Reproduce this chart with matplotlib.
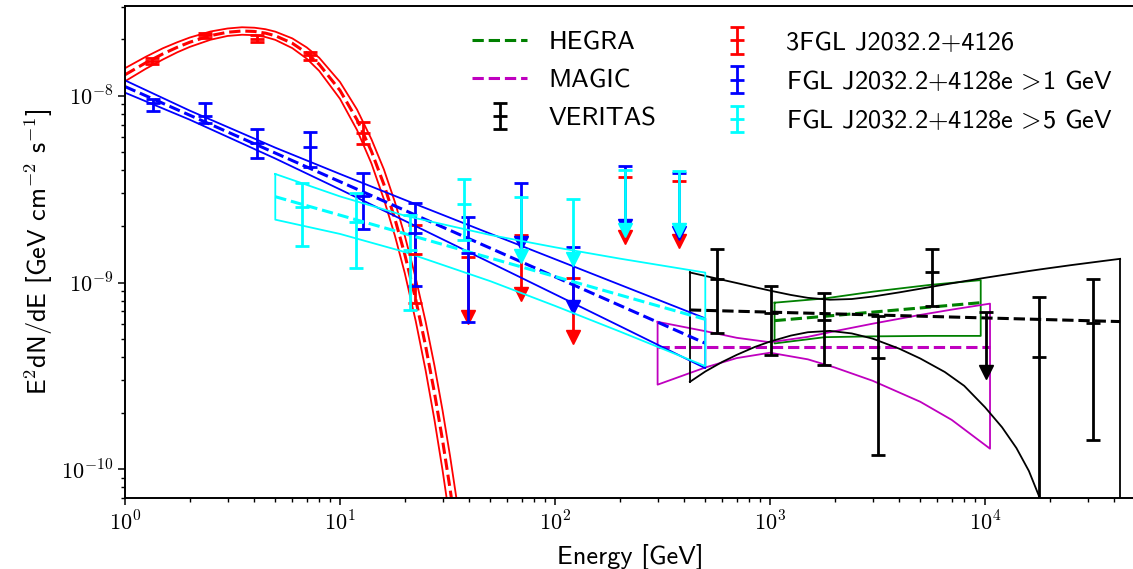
import numpy as np
import matplotlib
matplotlib.use('Agg')
import matplotlib.pyplot as plt
from matplotlib.ticker import FuncFormatter, NullFormatter

plt.rcParams['font.family'] = 'cmss10'
plt.rcParams['mathtext.fontset'] = 'cm'
plt.rcParams['axes.unicode_minus'] = False

## data points, energies in GeV, E^2 dN/dE in GeV cm-2 s-1
# 3FGL J2032.2+4126
E_3fgl = [1.33, 2.36, 4.10, 7.25, 12.8, 22.3]
F_3fgl = [1.54e-8, 2.10e-8, 2.00e-8, 1.65e-8, 6.34e-9, 1.42e-9]
hi_3fgl = [1.60e-8, 2.17e-8, 2.11e-8, 1.72e-8, 7.26e-9, 2.03e-9]
lo_3fgl = [1.47e-8, 2.03e-8, 1.93e-8, 1.55e-8, 5.51e-9, 7.8e-10]
E_3fgl_ul = [39.5, 69.3, 120.9, 211.6, 377.0]
F_3fgl_ul = [1.37e-9, 1.80e-9, 1.06e-9, 3.66e-9, 3.49e-9]

# FGL J2032.2+4128e >1 GeV
E_fgl1 = [1.35, 2.36, 4.10, 7.25, 12.8, 22.3, 39.5]
F_fgl1 = [9.1e-9, 7.8e-9, 5.6e-9, 5.29e-9, 2.9e-9, 1.85e-9, 1.43e-9]
hi_fgl1 = [9.57e-9, 9.1e-9, 6.61e-9, 6.37e-9, 3.84e-9, 2.67e-9, 2.25e-9]
lo_fgl1 = [8.31e-9, 7.1e-9, 4.62e-9, 4.17e-9, 1.93e-9, 9.6e-10, 6.17e-10]
E_fgl1_ul = [69.3, 120.9, 211.6, 377.0]
F_fgl1_ul = [3.40e-9, 1.54e-9, 4.2e-9, 3.84e-9]

# FGL J2032.2+4128e >5 GeV
E_fgl5 = [6.63, 11.9, 21.2, 37.7]
F_fgl5 = [2.53e-9, 2.11e-9, 1.50e-9, 2.63e-9]
hi_fgl5 = [3.42e-9, 3.0e-9, 2.30e-9, 3.57e-9]
lo_fgl5 = [1.56e-9, 1.19e-9, 7.1e-10, 1.69e-9]
E_fgl5_ul = [69.3, 120.9, 211.6, 377.0]
F_fgl5_ul = [2.88e-9, 2.80e-9, 3.99e-9, 3.97e-9]

# VERITAS
E_ver = [565, 1007, 1783, 3170, 5650, 17830, 31700]
F_ver = [1.04e-9, 6.89e-10, 6.29e-10, 3.96e-10, 1.14e-9, 4.01e-10, 6.09e-10]
hi_ver = [1.52e-9, 9.57e-10, 8.81e-10, 6.64e-10, 1.52e-9, 8.34e-10, 1.05e-9]
lo_ver = [5.35e-10, 4.09e-10, 3.61e-10, 1.19e-10, 7.48e-10, 1e-11, 1.44e-10]
E_ver_ul = [10070]
F_ver_ul = [6.92e-10]

## model curves and butterflies
# 3FGL curved spectrum
E_3fgl_mod = [1, 1.25, 1.5, 1.75, 2, 2.5, 3, 3.5, 4, 4.5, 5, 6, 7, 8, 10, 12, 14, 16, 18, 20,
              22.5, 25, 27.5, 30, 32.5, 35, 40]
F_3fgl_mod = [1.294e-8, 1.501e-8, 1.674e-8, 1.816e-8, 1.932e-8, 2.097e-8, 2.186e-8, 2.219e-8,
              2.207e-8, 2.162e-8, 2.093e-8, 1.908e-8, 1.692e-8, 1.472e-8, 1.067e-8, 7.43e-9,
              5.04e-9, 3.35e-9, 2.193e-9, 1.418e-9, 8.11e-10, 4.59e-10, 2.57e-10, 1.427e-10,
              7.87e-11, 4.32e-11, 1.28e-11]
up_3fgl_mod = [1.403e-8, 1.616e-8, 1.794e-8, 1.932e-8, 2.047e-8, 2.206e-8, 2.289e-8, 2.324e-8,
               2.311e-8, 2.269e-8, 2.202e-8, 2.026e-8, 1.813e-8, 1.596e-8, 1.184e-8, 8.43e-9,
               5.85e-9, 4.03e-9, 2.698e-9, 1.785e-9, 1.057e-9, 6.19e-10, 3.59e-10, 2.063e-10,
               1.178e-10, 6.69e-11, 2.12e-11]
lo_3fgl_mod = [1.194e-8, 1.394e-8, 1.562e-8, 1.707e-8, 1.824e-8, 1.993e-8, 2.088e-8, 2.119e-8,
               2.108e-8, 2.060e-8, 1.990e-8, 1.797e-8, 1.579e-8, 1.358e-8, 9.62e-9, 6.55e-9,
               4.34e-9, 2.79e-9, 1.782e-9, 1.126e-9, 6.22e-10, 3.40e-10, 1.84e-10, 9.87e-11,
               5.26e-11, 2.79e-11, 7.7e-12]

# FGL >1 GeV power law
E_fgl1_mod = [1, 2, 5, 10, 20, 50, 100, 200, 500]
F_fgl1_mod = [1.119e-8, 4.73e-10]   # at first / last energy
up_fgl1_mod = [1.208e-8, 8.32e-9, 5.27e-9, 3.81e-9, 2.77e-9, 1.826e-9, 1.334e-9, 9.74e-10, 6.43e-10]
lo_fgl1_mod = [1.038e-8, 7.44e-9, 4.61e-9, 3.15e-9, 2.14e-9, 1.278e-9, 8.65e-10, 5.85e-10, 3.48e-10]

# FGL >5 GeV power law
E_fgl5_mod = [5, 10, 20, 50, 100, 200, 500]
F_fgl5_mod = [2.88e-9, 6.35e-10]
up_fgl5_mod = [3.81e-9, 2.89e-9, 2.28e-9, 1.797e-9, 1.544e-9, 1.343e-9, 1.13e-9]
lo_fgl5_mod = [2.17e-9, 1.82e-9, 1.457e-9, 1.017e-9, 7.50e-10, 5.47e-10, 3.57e-10]

# HEGRA
E_hegra = [1050, 1800, 3000, 5500, 9550]
F_hegra = [6.25e-10, 7.8e-10]
up_hegra = [7.8e-10, 8.22e-10, 8.93e-10, 9.7e-10, 1.03e-9]
lo_hegra = [4.72e-10, 5.1e-10, 5.15e-10, 5.18e-10, 5.18e-10]

# MAGIC
E_magic = [300, 500, 700, 1000, 1500, 2000, 3000, 5000, 7000, 10550]
F_magic = [4.5e-10, 4.5e-10]
up_magic = [6.16e-10, 5.49e-10, 5.06e-10, 4.79e-10, 5.12e-10, 5.49e-10, 6.02e-10, 6.71e-10, 7.16e-10, 7.71e-10]
lo_magic = [2.84e-10, 3.51e-10, 3.94e-10, 4.21e-10, 3.88e-10, 3.51e-10, 2.98e-10, 2.30e-10, 1.84e-10, 1.29e-10]

# VERITAS
E_ver_mod = [424, 42500]
F_ver_mod = [7.13e-10, 6.18e-10]
E_ver_up = [424, 500, 600, 700, 850, 1000, 1250, 1500, 1900, 2400, 3000, 4000, 5000, 6500, 8000,
            10000, 12000, 14000, 16000, 18000, 20000, 22000, 25000, 30000, 36000, 42500]
up_ver = [1.132e-9, 1.084e-9, 1.034e-9, 9.94e-10, 9.44e-10, 9.05e-10, 8.58e-10, 8.28e-10, 8.09e-10,
          8.16e-10, 8.41e-10, 8.86e-10, 9.26e-10, 9.76e-10, 1.016e-9, 1.060e-9, 1.095e-9, 1.125e-9,
          1.152e-9, 1.175e-9, 1.195e-9, 1.213e-9, 1.238e-9, 1.272e-9, 1.307e-9, 1.339e-9]
E_ver_lo = [424, 500, 600, 700, 850, 1000, 1250, 1500, 1900, 2400, 3000, 4000, 5000, 6500, 8000,
            10000, 12000, 14000, 16000, 18000, 19000, 20000]
lo_ver_mod = [2.94e-10, 3.34e-10, 3.76e-10, 4.10e-10, 4.52e-10, 4.83e-10, 5.20e-10, 5.42e-10, 5.51e-10,
              5.34e-10, 5.01e-10, 4.42e-10, 3.92e-10, 3.32e-10, 2.80e-10, 2.15e-10, 1.68e-10,
              1.30e-10, 9.8e-11, 7.0e-11, 5.5e-11, 4.0e-11]

LW = 1.3
DLW = 2.2
UL_DROP = 0.48   # arrow length of the upper limits

fig = plt.figure(figsize=(11.33, 5.69), dpi=100)
ax = fig.add_axes([125/1133, 70.7/569, 1010.3/1133, 492.3/569])
ax.set_xscale('log')
ax.set_yscale('log')


def bowtie(E, up, lo, color):
    # closed butterfly outline
    xs = list(E) + list(E[::-1]) + [E[0]]
    ys = list(up) + list(lo[::-1]) + [up[0]]
    ax.plot(xs, ys, '-', color=color, lw=LW)


def points(E, F, lo, hi, color, label=None):
    F = np.array(F)
    yerr = [F - np.array(lo), np.array(hi) - F]
    return ax.errorbar(E, F, yerr=yerr, fmt='_', color=color, ms=10, mew=2,
                       elinewidth=2, capsize=5, capthick=2, label=label)


def uplims(E, UL, color):
    UL = np.array(UL)
    ax.vlines(E, UL_DROP*UL, UL, color=color, lw=2)
    ax.plot(E, UL, '_', color=color, ms=10, mew=2, ls='none')
    ax.plot(E, UL_DROP*UL, 'v', color=color, ms=10, ls='none')


# HEGRA
bowtie(E_hegra, up_hegra, lo_hegra, 'g')
h_hegra, = ax.plot([E_hegra[0], E_hegra[-1]], F_hegra, '--', color='g', lw=DLW, label='HEGRA')

# MAGIC
bowtie(E_magic, up_magic, lo_magic, 'm')
h_magic, = ax.plot([E_magic[0], E_magic[-1]], F_magic, '--', color='m', lw=DLW, label='MAGIC')

# VERITAS
ax.plot(E_ver_up, up_ver, '-', color='k', lw=LW)
ax.plot(E_ver_lo, lo_ver_mod, '-', color='k', lw=LW)
ax.plot([E_ver_up[0], E_ver_lo[0]], [up_ver[0], lo_ver_mod[0]], '-', color='k', lw=LW)
ax.plot([E_ver_up[-1], E_ver_up[-1]], [up_ver[-1], 1e-12], '-', color='k', lw=LW)
ax.plot(E_ver_mod, F_ver_mod, '--', color='k', lw=DLW)
h_ver = points(E_ver, F_ver, lo_ver, hi_ver, 'k', 'VERITAS')
uplims(E_ver_ul, F_ver_ul, 'k')

# 3FGL
ax.plot(E_3fgl_mod, up_3fgl_mod, '-', color='r', lw=LW)
ax.plot(E_3fgl_mod, lo_3fgl_mod, '-', color='r', lw=LW)
ax.plot(E_3fgl_mod, F_3fgl_mod, '--', color='r', lw=DLW)
h_3fgl = points(E_3fgl, F_3fgl, lo_3fgl, hi_3fgl, 'r')
uplims(E_3fgl_ul, F_3fgl_ul, 'r')

# FGL >1 GeV
bowtie(E_fgl1_mod, up_fgl1_mod, lo_fgl1_mod, 'b')
ax.plot([E_fgl1_mod[0], E_fgl1_mod[-1]], F_fgl1_mod, '--', color='b', lw=DLW)
h_fgl1 = points(E_fgl1, F_fgl1, lo_fgl1, hi_fgl1, 'b')
uplims(E_fgl1_ul, F_fgl1_ul, 'b')

# FGL >5 GeV
bowtie(E_fgl5_mod, up_fgl5_mod, lo_fgl5_mod, 'cyan')
ax.plot([E_fgl5_mod[0], E_fgl5_mod[-1]], F_fgl5_mod, '--', color='cyan', lw=DLW)
h_fgl5 = points(E_fgl5, F_fgl5, lo_fgl5, hi_fgl5, 'cyan')
uplims(E_fgl5_ul, F_fgl5_ul, 'cyan')

ax.set_xlim(1, 5e4)
ax.set_ylim(7e-11, 3.02e-8)

fmt = FuncFormatter(lambda v, p: r'$10^{%d}$' % int(round(np.log10(v))))
ax.xaxis.set_major_formatter(fmt)
ax.yaxis.set_major_formatter(fmt)
ax.xaxis.set_minor_formatter(NullFormatter())
ax.yaxis.set_minor_formatter(NullFormatter())
ax.tick_params(which='major', length=5, width=1.1, labelsize=16)
ax.tick_params(which='minor', length=3, width=1.0)
ax.tick_params(top=False, right=False, which='both')
for s in ax.spines.values():
    s.set_linewidth(1.4)

ax.set_xlabel('Energy [GeV]', fontsize=19, labelpad=7)
ax.set_ylabel(r'E$^{\mathsf{2}}$dN/dE [GeV cm$^{\mathsf{-2}}$ s$^{\mathsf{-1}}$]', fontsize=19)

ax.legend([h_hegra, h_magic, h_ver, h_3fgl, h_fgl1, h_fgl5],
          ['HEGRA', 'MAGIC', 'VERITAS', '3FGL J2032.2+4126',
           r'FGL J2032.2+4128e$\,>\!$1 GeV', r'FGL J2032.2+4128e$\,>\!$5 GeV'],
          ncol=2, loc='upper right', bbox_to_anchor=(1136/1133, 0.987),
          bbox_transform=fig.transFigure, frameon=False, fontsize=19,
          handlelength=2.1, labelspacing=0.54, columnspacing=2.0, borderpad=0.4)

plt.savefig('out.png', dpi=100)
